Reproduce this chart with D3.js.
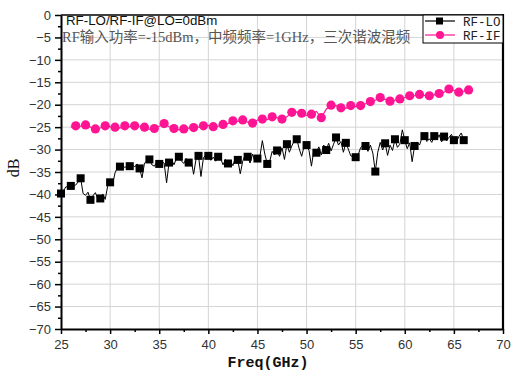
<!DOCTYPE html>
<html><head><meta charset="utf-8">
<script src="https://cdn.jsdelivr.net/npm/d3@7"></script>
<style>body{margin:0;background:#fff}svg{display:block}</style>
</head><body>
<svg id="c" width="511" height="374"></svg>
<script>
// ---- data ----
const xTicks = [25,30,35,40,45,50,55,60,65,70];
const yTicks = [0,-5,-10,-15,-20,-25,-30,-35,-40,-45,-50,-55,-60,-65,-70];
const seriesNames = ["RF-LO","RF-IF"];
const titleLine1 = "RF-LO/RF-IF@LO=0dBm";
const titleLine2 = "RF输入功率=-15dBm，中频频率=1GHz，三次谐波混频";
// RF-LO sampled every 0.25 GHz from 25.0 GHz
const loStart = 25.0, loStep = 0.25;
const loValues = [
 -39.8,-39.2,-38.3,-38.4,  -38.1,-38.2,-37.9,-37.2,  -36.4,-39.8,-40.2,-39.5,
 -41.2,-40.3,-39.6,-41.0,  -40.9,-39.9,-41.1,-38.2,  -37.3,-37.8,-35.2,-34.0,
 -33.8,-33.5,-34.0,-33.6,  -33.7,-33.3,-33.9,-33.2,  -34.2,-36.3,-33.0,-32.6,
 -32.2,-33.4,-33.7,-32.8,  -33.2,-32.7,-33.0,-37.4,  -32.9,-32.2,-33.4,-32.0,
 -31.6,-32.5,-33.1,-32.0,  -32.9,-32.3,-35.5,-32.1,  -31.4,-36.0,-31.8,-31.2,
 -31.4,-32.4,-31.7,-32.6,  -31.6,-32.0,-33.4,-32.2,  -33.1,-32.5,-33.6,-31.9,
 -32.3,-35.4,-32.6,-31.2,  -31.6,-33.0,-31.0,-32.7,  -32.0,-31.5,-28.0,-31.0,
 -33.2,-32.6,-30.4,-31.2,  -30.2,-31.5,-29.6,-32.2,  -28.8,-30.6,-29.2,-28.0,
 -27.7,-29.8,-31.5,-29.3,  -29.0,-30.2,-33.7,-30.0,  -30.7,-29.4,-31.2,-29.0,
 -30.1,-28.6,-30.3,-28.8,  -27.3,-29.0,-28.2,-30.6,  -28.5,-29.9,-31.4,-31.6,
 -31.7,-31.2,-29.6,-29.0,  -29.2,-30.4,-29.0,-30.8,  -34.9,-30.6,-28.4,-30.1,
 -28.6,-31.3,-29.0,-30.2,  -27.7,-29.5,-28.8,-25.6,  -27.9,-29.8,-28.5,-32.7,
 -29.2,-28.3,-29.0,-27.4,  -27.0,-28.2,-27.6,-28.4,  -27.0,-27.8,-26.7,-28.3,
 -27.1,-28.0,-27.3,-26.6,  -27.9,-28.4,-27.1,-26.3,  -27.9,-28.3
];
// RF-IF sampled every 0.5 GHz from 26.0 GHz
const ifStart = 26.0, ifStep = 0.5;
const ifValues = [
 -25.0,-24.7, -24.8,-24.5, -25.0,-25.4, -25.2,-24.7, -24.9,-25.0,
 -25.2,-24.7, -24.9,-24.7, -24.8,-25.0, -25.5,-25.3, -24.8,-24.2,
 -24.9,-25.3, -25.6,-25.4, -25.2,-25.1, -25.0,-24.7, -24.6,-24.9,
 -24.8,-24.4, -24.2,-23.6, -23.7,-23.4, -23.9,-24.1, -23.4,-23.2,
 -23.3,-22.7, -22.9,-23.2, -22.7,-21.7, -21.6,-21.9, -22.4,-22.1,
 -21.5,-22.9, -21.0,-20.1, -20.2,-20.7, -20.8,-20.2, -20.4,-20.2,
 -19.8,-19.3, -19.0,-18.4, -18.8,-19.2, -19.0,-18.7, -18.4,-18.0,
 -18.0,-17.7, -17.9,-18.0, -17.8,-17.5, -17.2,-16.5, -16.8,-17.2,
 -17.0,-16.7
];

// ---- chart ----
const svg = d3.select("#c");
const L = 61, R = 503, T = 15, B = 329;
const x = d3.scaleLinear().domain([25,70]).range([L,R]);
const y = d3.scaleLinear().domain([-70,0]).range([B,T]);
const lo = loValues.map((v,i)=>({f: loStart + i*loStep, v}));
const iff = ifValues.map((v,i)=>({f: ifStart + i*ifStep, v}));
const pink = "#ff1493";

// grid
svg.append("g").selectAll("line").data(xTicks.slice(1,-1)).join("line")
  .attr("x1",d=>x(d)).attr("x2",d=>x(d)).attr("y1",T).attr("y2",B)
  .attr("stroke","#d4d4d4").attr("stroke-width",1);
svg.append("g").selectAll("line").data(yTicks.slice(1,-1)).join("line")
  .attr("y1",d=>y(d)).attr("y2",d=>y(d)).attr("x1",L).attr("x2",R)
  .attr("stroke","#d4d4d4").attr("stroke-width",1);

// axes
const fontTick = "'Liberation Sans', Arial, sans-serif";
const xMinor = d3.range(27.5,70,5);
const yMinor = d3.range(-2.5,-70,-5);
svg.append("g").attr("transform",`translate(0,${B})`)
  .call(d3.axisBottom(x).tickValues(xTicks).tickSize(5).tickSizeOuter(0).tickPadding(6).tickFormat(d3.format("d")));
svg.append("g").attr("transform",`translate(0,${B})`)
  .call(d3.axisBottom(x).tickValues(xMinor).tickSize(3).tickFormat(""))
  .select(".domain").remove();
svg.append("g").attr("transform",`translate(${L},0)`)
  .call(d3.axisLeft(y).tickValues(yTicks).tickSize(6).tickSizeOuter(0).tickPadding(4)
    .tickFormat(d=>d<0?"\u2212"+Math.abs(d):String(d)));
svg.append("g").attr("transform",`translate(${L},0)`)
  .call(d3.axisLeft(y).tickValues(yMinor).tickSize(3).tickFormat(""))
  .select(".domain").remove();
svg.selectAll(".tick line").attr("stroke","#000").attr("stroke-width",1.5);
svg.selectAll(".domain").attr("stroke","#000").attr("stroke-width",2);
svg.selectAll(".tick text").attr("font-family",fontTick).attr("font-size",13).attr("fill","#333");

// frame top & right
svg.append("line").attr("x1",L).attr("x2",R).attr("y1",T).attr("y2",T).attr("stroke","#000").attr("stroke-width",1.5);
svg.append("line").attr("x1",R).attr("x2",R).attr("y1",T-1).attr("y2",B+1).attr("stroke","#000").attr("stroke-width",2.2);

// lines
const line = d3.line().x(d=>x(d.f)).y(d=>y(d.v));
svg.append("path").datum(lo).attr("d",line).attr("fill","none").attr("stroke","#000").attr("stroke-width",1);
svg.append("path").datum(iff).attr("d",line).attr("fill","none").attr("stroke",pink).attr("stroke-width",1.2);
svg.append("g").selectAll("rect").data(lo.filter((d,i)=>i%4===0)).join("rect")
  .attr("x",d=>x(d.f)-4).attr("y",d=>y(d.v)-4).attr("width",8).attr("height",8).attr("fill","#000");
svg.append("g").selectAll("circle").data(iff.filter((d,i)=>i%2===1)).join("circle")
  .attr("cx",d=>x(d.f)).attr("cy",d=>y(d.v)).attr("r",4.6).attr("fill",pink);

// titles
svg.append("text").attr("x",66).attr("y",25).text(titleLine1)
  .attr("font-family",fontTick).attr("font-size",13.3).attr("fill","#111");
svg.append("text").attr("x",62).attr("y",42).text(titleLine2)
  .attr("font-family","'Liberation Serif','Noto Sans CJK SC',serif").attr("font-size",14.5).attr("fill","#555");

// legend
const lg = svg.append("g");
lg.append("rect").attr("x",423).attr("y",T).attr("width",R-423).attr("height",28)
  .attr("fill","#fff").attr("stroke","#000").attr("stroke-width",1);
const legY = [21,35];
const legColor = ["#000",pink];
seriesNames.forEach((n,i)=>{
  lg.append("line").attr("x1",425).attr("x2",455).attr("y1",legY[i]).attr("y2",legY[i]).attr("stroke",legColor[i]).attr("stroke-width",1.2);
  if(i===0) lg.append("rect").attr("x",436).attr("y",legY[i]-3.5).attr("width",7).attr("height",7).attr("fill","#000");
  else lg.append("circle").attr("cx",440).attr("cy",legY[i]).attr("r",4).attr("fill",pink);
  lg.append("text").attr("x",463).attr("y",legY[i]+4.5).text(n)
    .attr("font-family","'Liberation Mono',monospace").attr("font-size",12.5).attr("fill","#222");
});

// axis titles
svg.append("text").attr("x",268).attr("y",367).attr("text-anchor","middle").text("Freq(GHz)")
  .attr("font-family","'Liberation Mono',monospace").attr("font-weight","bold").attr("font-size",15).attr("fill","#111");
svg.append("text").attr("transform","translate(19,168) rotate(-90)").attr("text-anchor","middle").text("dB")
  .attr("font-family","'Liberation Serif',serif").attr("font-size",16).attr("fill","#111");
</script>
</body></html>
